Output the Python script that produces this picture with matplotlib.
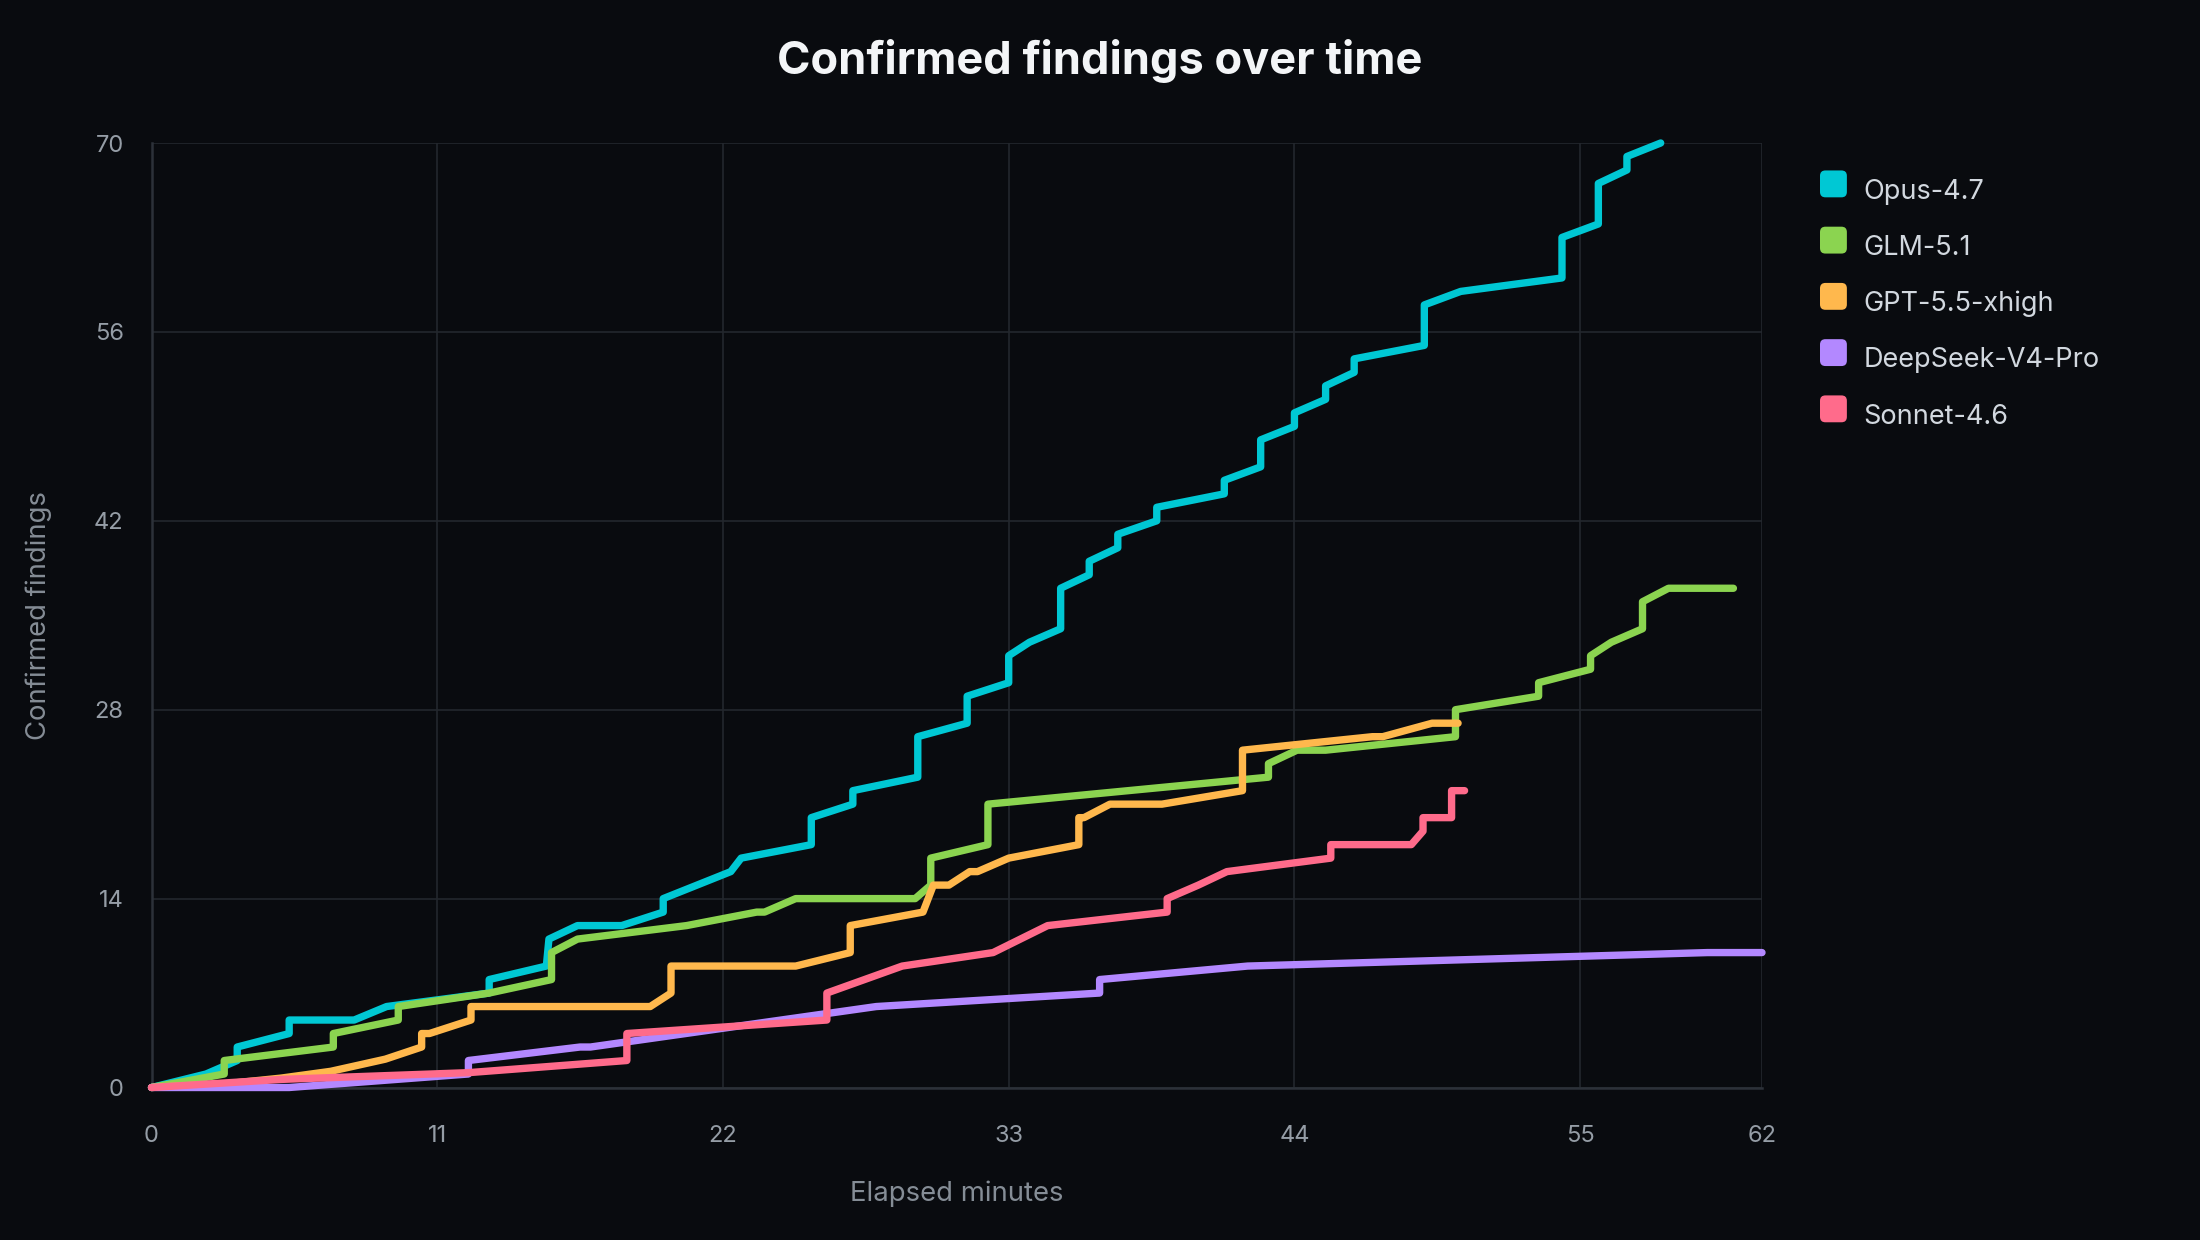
import matplotlib
matplotlib.use("Agg")
import matplotlib.pyplot as plt
from matplotlib.legend_handler import HandlerPatch
from matplotlib.patches import FancyBboxPatch, Patch

plt.rcParams['font.family'] = ['Inter', 'DejaVu Sans']

# ---------------- data ----------------
series_names = ["Opus-4.7", "GLM-5.1", "GPT-5.5-xhigh", "DeepSeek-V4-Pro", "Sonnet-4.6"]
series_colors = ["#00c8d4", "#8bd450", "#ffb84d", "#b388ff", "#ff6b8b"]

opus_t = [0, 2.1, 3.3, 3.3, 5.3, 5.3, 7.8, 9.05, 13.0, 13.0,
          15.2, 15.3, 16.4, 18.1, 19.7, 19.7, 22.3, 22.7, 25.4, 25.4,
          27.0, 27.0, 29.5, 29.5, 31.4, 31.4, 33.0, 33.0, 33.8, 35.0,
          35.0, 36.1, 36.1, 37.2, 37.2, 38.7, 38.7, 41.3, 41.3, 42.7,
          42.7, 44.0, 44.0, 45.2, 45.2, 46.3, 46.3, 49.0, 49.0, 50.4,
          54.3, 54.3, 55.7, 55.7, 56.8, 56.8, 58.1]
opus_n = [0, 1, 2, 3, 4, 5, 5, 6, 7, 8,
          9, 11, 12, 12, 13, 14, 16, 17, 18, 20,
          21, 22, 23, 26, 27, 29, 30, 32, 33, 34,
          37, 38, 39, 40, 41, 42, 43, 44, 45, 46,
          48, 49, 50, 51, 52, 53, 54, 55, 58, 59,
          60, 63, 64, 67, 68, 69, 70]

glm_t = [0, 2.8, 2.8, 7.0, 7.0, 9.5, 9.5, 13.0, 15.4, 15.4,
         16.4, 20.6, 23.3, 23.6, 24.8, 29.4, 30.0, 30.0, 32.2, 32.2,
         43.0, 43.0, 44.1, 45.2, 50.2, 50.2, 53.4, 53.4, 55.4, 55.4,
         56.2, 57.4, 57.4, 58.4, 60.9]
glm_n = [0, 1, 2, 3, 4, 5, 6, 7, 8, 10,
         11, 12, 13, 13, 14, 14, 15, 17, 18, 21,
         23, 24, 25, 25, 26, 28, 29, 30, 31, 32,
         33, 34, 36, 37, 37]

gpt_t = [0, 3.0, 5.0, 6.9, 9.0, 10.4, 10.4, 10.7, 12.3, 12.3,
         19.2, 20.0, 20.0, 24.8, 26.9, 26.9, 29.7, 30.1, 30.7, 31.5,
         31.8, 33.0, 35.7, 35.7, 35.9, 36.9, 38.9, 42.0, 42.0, 47.0,
         47.4, 49.3, 50.3]
gpt_n = [0, 0.3, 0.7, 1.2, 2.1, 3, 4, 4, 5, 6,
         6, 7, 9, 9, 10, 12, 13, 15, 15, 16,
         16, 17, 18, 20, 20, 21, 21, 22, 25, 26,
         26, 27, 27]

deepseek_t = [0, 5.3, 12.2, 12.2, 16.5, 16.9, 27.9, 36.5, 36.5, 42.2, 59.9, 62.0]
deepseek_n = [0, 0, 1, 2, 3, 3, 6, 7, 8, 9, 10, 10]

sonnet_t = [0, 5.0, 12.2, 18.3, 18.3, 26.0, 26.0, 28.9, 32.4, 34.5,
            39.1, 39.1, 40.3, 41.4, 45.4, 45.4, 48.5, 48.95, 48.95, 50.05,
            50.05, 50.55]
sonnet_n = [0, 0.6, 1.1, 2, 4, 5, 7, 9, 10, 12,
            13, 14, 15, 16, 17, 18, 18, 19, 20, 20,
            22, 22]

x_ticks = [0, 11, 22, 33, 44, 55, 62]
y_ticks = [0, 14, 28, 42, 56, 70]

title_text = "Confirmed findings over time"
x_label = "Elapsed minutes"
y_label = "Confirmed findings"

# ---------------- style ----------------
BG = "#090b0f"
GRID = "#23272e"
SPINE = "#2c3139"
TICK_C = "#959da6"
LABEL_C = "#858d96"
LEGEND_C = "#d2d8df"
TITLE_C = "#f3f5f7"

W, H = 2200, 1240
fig = plt.figure(figsize=(W / 100, H / 100), dpi=100, facecolor=BG)
ax_left, ax_right, ax_top, ax_bottom = 151.5, 1762, 143, 1087.5
ax = fig.add_axes([ax_left / W, 1 - ax_bottom / H,
                   (ax_right - ax_left) / W, (ax_bottom - ax_top) / H])
ax.set_facecolor(BG)

all_t = [opus_t, glm_t, gpt_t, deepseek_t, sonnet_t]
all_n = [opus_n, glm_n, gpt_n, deepseek_n, sonnet_n]
for i, (t, n) in enumerate(zip(all_t, all_n)):
    ax.plot(t, n, color=series_colors[i], lw=5.3, solid_capstyle='round',
            solid_joinstyle='round', clip_on=False, zorder=3 + i,
            label=series_names[i])

ax.set_xlim(0, 62)
ax.set_ylim(0, 70)
ax.set_xticks(x_ticks)
ax.set_yticks(y_ticks)
ax.grid(True, color=GRID, lw=1.2)
ax.set_axisbelow(True)
for s in ["top", "right"]:
    ax.spines[s].set_visible(False)
for s in ["left", "bottom"]:
    ax.spines[s].set_color(SPINE)
    ax.spines[s].set_linewidth(1.8)
ax.tick_params(axis='both', length=0, labelsize=17, labelcolor=TICK_C)
ax.tick_params(axis='x', pad=27)
ax.tick_params(axis='y', pad=20)

ax.set_xlabel(x_label, fontsize=19.8, color=LABEL_C, va='center')
ax.xaxis.set_label_coords(0.5, (ax_bottom - 1194) / (ax_bottom - ax_top))
ax.set_ylabel(y_label, fontsize=19.8, color=LABEL_C, va='center', ha='center')
ax.yaxis.set_label_coords((39 - ax_left) / (ax_right - ax_left), 0.5)

fig.text(0.5, 1 - 61 / H, title_text, ha='center', va='center',
         fontsize=32.5, fontweight='bold', color=TITLE_C)


class RoundSquareHandler(HandlerPatch):
    def create_artists(self, legend, orig_handle, xdescent, ydescent,
                       width, height, fontsize, trans):
        size = min(width, height)
        x0 = -xdescent
        y0 = -ydescent + (height - size) / 2 + 4.0
        p = FancyBboxPatch((x0, y0), size, size,
                           boxstyle=f"round,pad=0,rounding_size={size * 0.2}",
                           facecolor=orig_handle.get_facecolor(),
                           edgecolor='none', transform=trans)
        return [p]


handles = [Patch(facecolor=c) for c in series_colors]
leg = fig.legend(handles, series_names, loc='upper left',
                 bbox_to_anchor=(1820 / W, 1 - 176 / H),
                 bbox_transform=fig.transFigure, frameon=False,
                 fontsize=19.5, labelcolor=LEGEND_C, handlelength=1.15,
                 handleheight=1.15, handletextpad=0.46, labelspacing=1.02,
                 borderpad=0, borderaxespad=0,
                 handler_map={Patch: RoundSquareHandler()})

fig.savefig("out.png", dpi=100, facecolor=BG)
